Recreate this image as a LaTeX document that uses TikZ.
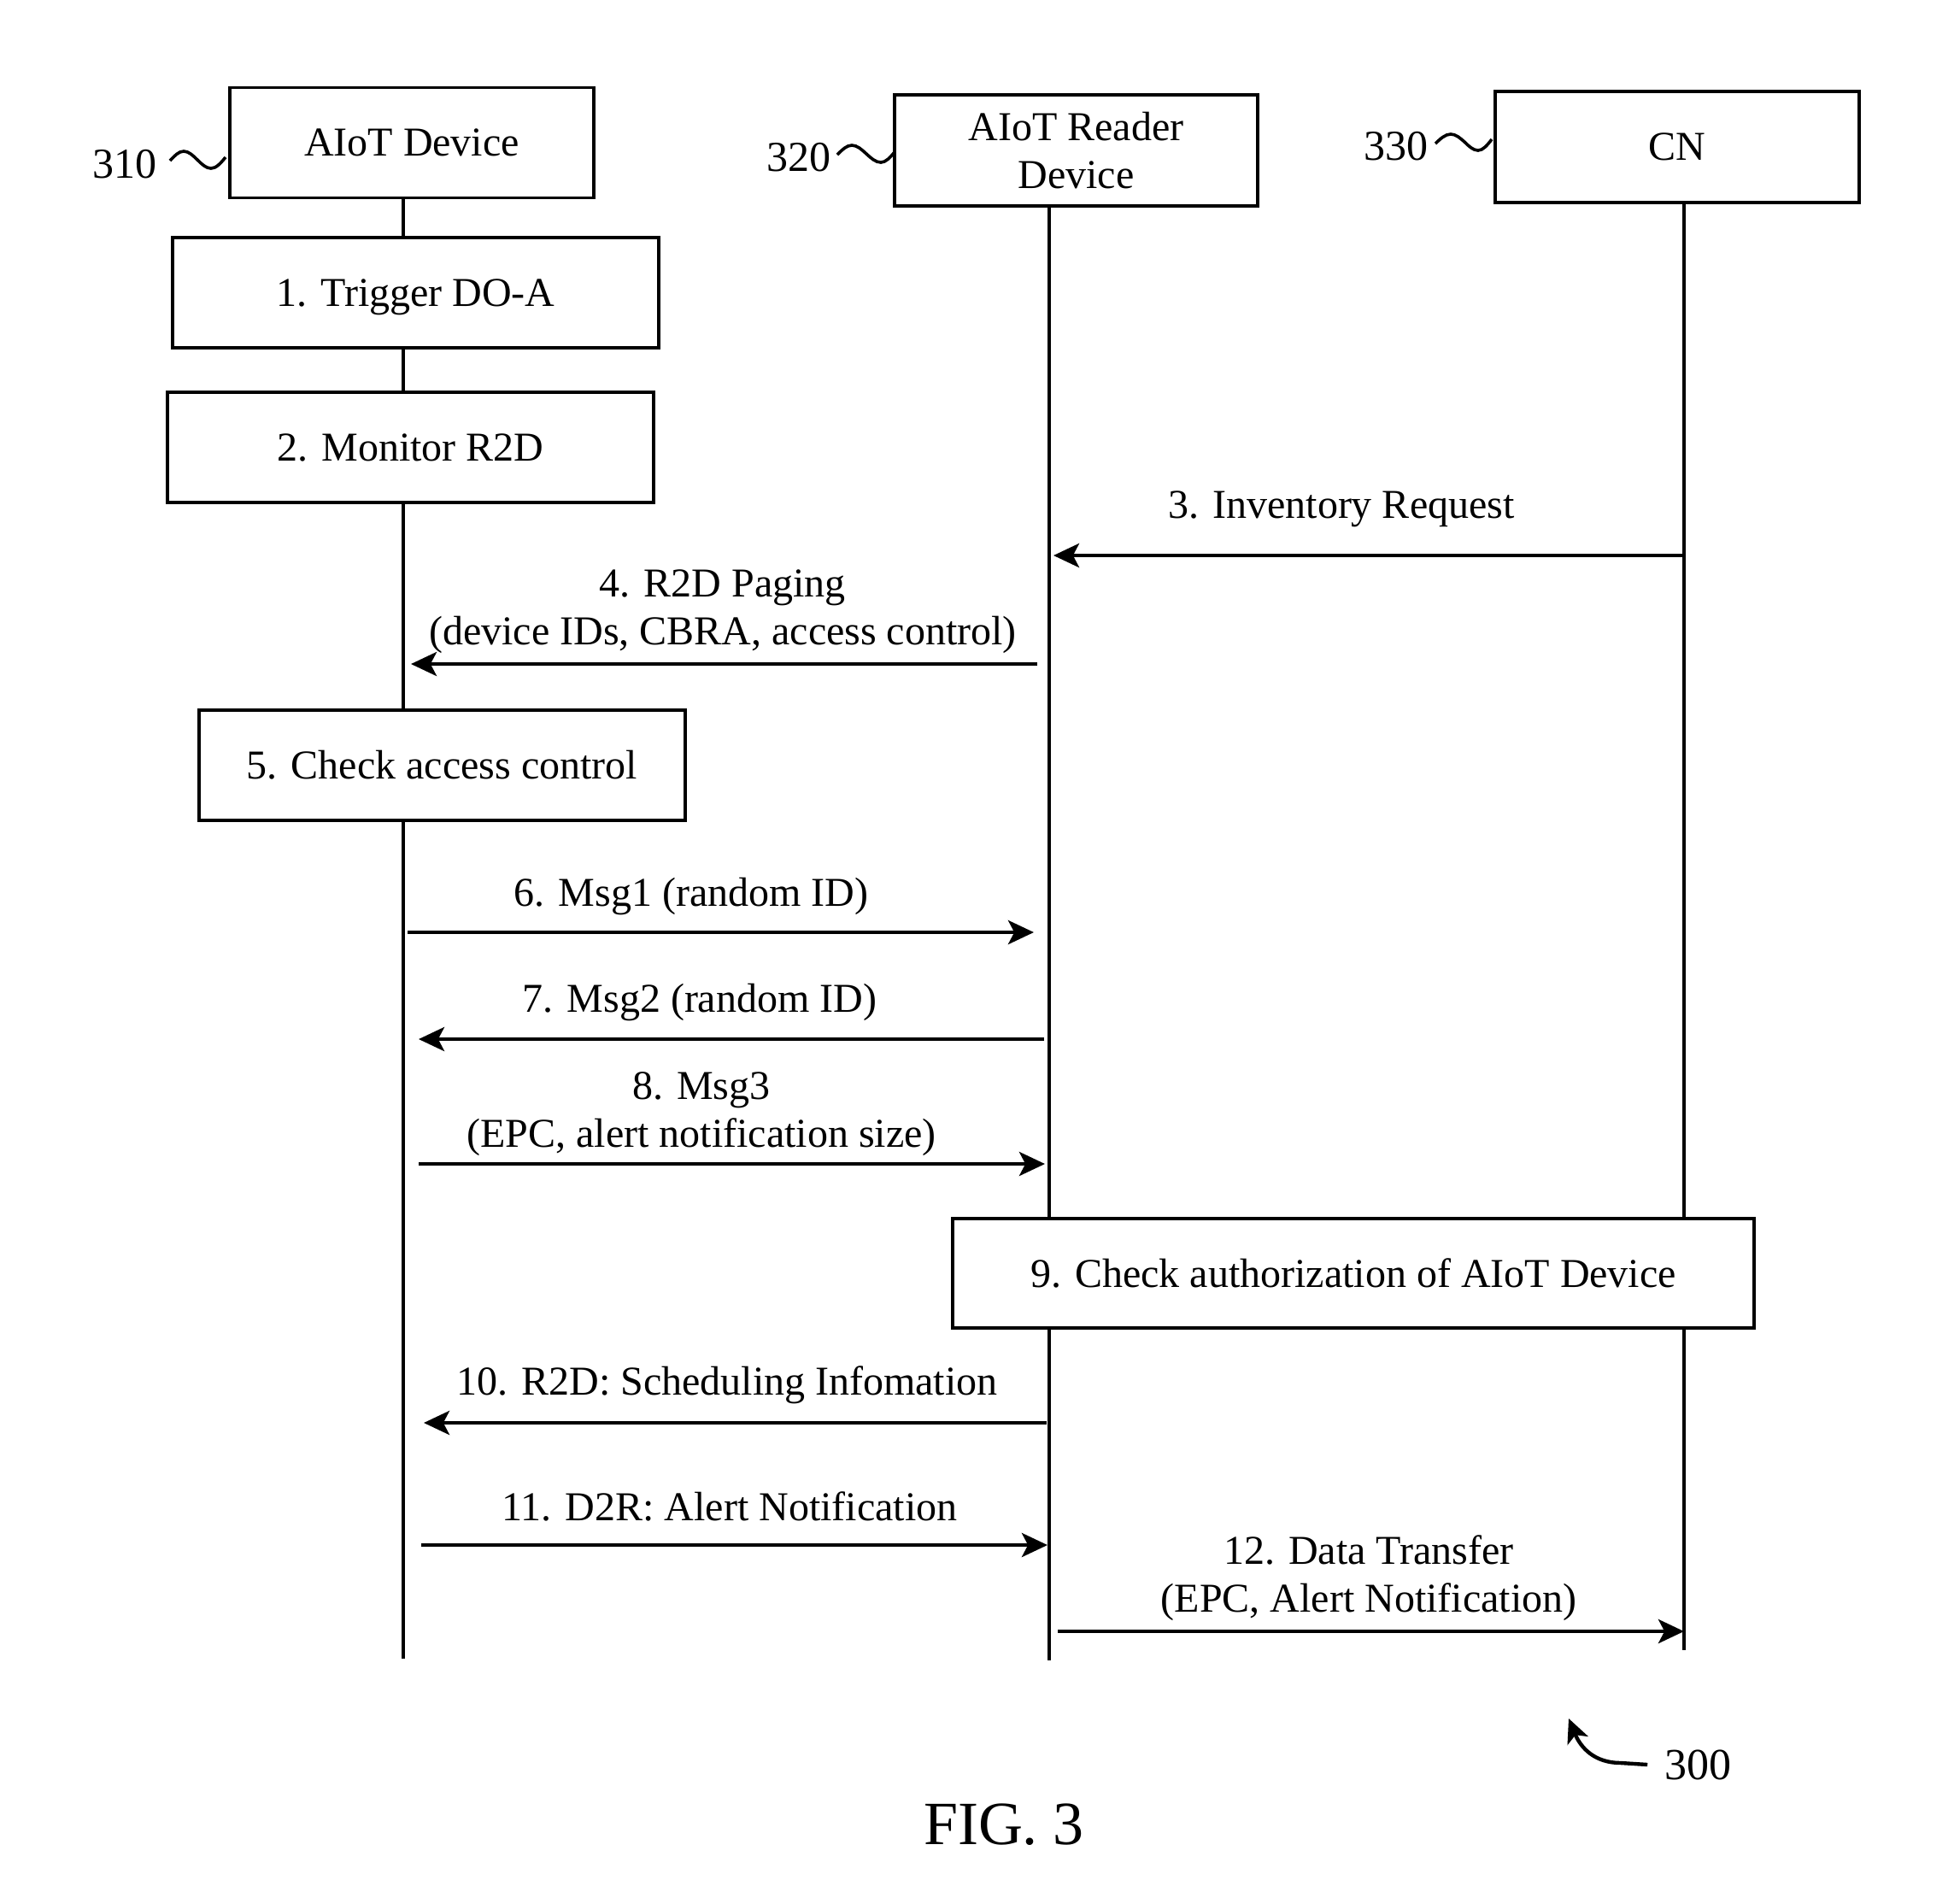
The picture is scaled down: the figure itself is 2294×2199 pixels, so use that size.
\documentclass[tikz,border=0pt]{standalone}
\usepackage{fontspec}
\setmainfont{Liberation Serif}
\usetikzlibrary{arrows.meta}
\begin{document}
\begin{tikzpicture}[x=0.25pt,y=-0.25pt,
  box/.style={draw,line width=0.95pt,fill=white,inner sep=0pt,align=center,font=\fontsize{12pt}{14pt}\selectfont},
  life/.style={line width=0.9pt},
  msg/.style={line width=1.15pt,-{Stealth[length=7.5pt,width=7pt,inset=1.8pt]}},
  lbl/.style={align=center,inner sep=0pt,font=\fontsize{12pt}{14pt}\selectfont},
  refn/.style={inner sep=0pt,font=\fontsize{12.5pt}{15pt}\selectfont},
  squig/.style={line width=0.9pt}]
\useasboundingbox (0,0) rectangle (2294,2199);

% header boxes
\node[box,minimum width=106.5pt,minimum height=32.25pt] (dev) at (482,167) {AIoT Device};
\node[box,minimum width=106.25pt,minimum height=32.5pt] (rdr) at (1259.5,176) {AIoT Reader\\Device};
\node[box,minimum width=106.5pt,minimum height=32.5pt] (cn) at (1963,172) {CN};

% reference numerals and tildes
\node[refn] (n310) at (146,192) {310};
\node[refn] (n320) at (935,184) {320};
\node[refn] (n330) at (1634,171) {330};
\draw[squig] (199,188) sin (215,177) cos (231,187) sin (247,197) cos (264,184);
\draw[squig] (980,181) sin (997,170) cos (1014,180) sin (1031,190) cos (1047,178);
\draw[squig] (1680,168) sin (1698,157) cos (1714,166) sin (1730,176) cos (1746,163);

% lifelines
\coordinate (devB) at (472,1941);
\coordinate (rdrB) at (1228,1943);
\coordinate (cnB) at (1971,1931);
\draw[life] (dev.south -| devB) -- (devB);
\draw[life] (rdr.south -| rdrB) -- (rdrB);
\draw[life] (cn.south -| cnB) -- (cnB);

% step boxes
\node[box,minimum width=142.25pt,minimum height=32.25pt,text depth=0pt] (s1) at (486.5,342.5) {1. Trigger DO-A};
\node[box,minimum width=142.25pt,minimum height=32.25pt] (s2) at (480.5,523.5) {2. Monitor R2D};
\node[box,minimum width=142.25pt,minimum height=32.25pt] (s5) at (517.5,895.5) {5. Check access control};
\node[box,minimum width=234.5pt,minimum height=32pt] (s9) at (1584,1490) {9. Check authorization of AIoT Device};

% message end points
\coordinate (a3s) at (1970,650);  \coordinate (a3e) at (1233,650);
\coordinate (a4s) at (1214,777);  \coordinate (a4e) at (481,777);
\coordinate (a6s) at (477,1091);  \coordinate (a6e) at (1210,1091);
\coordinate (a7s) at (1222,1216); \coordinate (a7e) at (490,1216);
\coordinate (a8s) at (490,1362);  \coordinate (a8e) at (1223,1362);
\coordinate (a10s) at (1225,1665); \coordinate (a10e) at (496,1665);
\coordinate (a11s) at (493,1808); \coordinate (a11e) at (1226,1808);
\coordinate (a12s) at (1238,1909); \coordinate (a12e) at (1971,1909);

\draw[msg] (a3s) -- (a3e);
\draw[msg] (a4s) -- (a4e);
\draw[msg] (a6s) -- (a6e);
\draw[msg] (a7s) -- (a7e);
\draw[msg] (a8s) -- (a8e);
\draw[msg] (a10s) -- (a10e);
\draw[msg] (a11s) -- (a11e);
\draw[msg] (a12s) -- (a12e);

% message labels
\node[lbl] (l3) at (1570,596) {3. Inventory Request};
\node[lbl] (l4) at (846,716) {4. R2D Paging\\(device IDs, CBRA, access control)};
\node[lbl] (l6) at (809,1049) {6. Msg1 (random ID)};
\node[lbl] (l7) at (819,1173) {7. Msg2 (random ID)};
\node[lbl] (l8) at (821,1304) {8. Msg3\\(EPC, alert notification size)};
\node[lbl] (l10) at (851,1621) {10. R2D: Scheduling Infomation};
\node[lbl] (l11) at (854,1763) {11. D2R: Alert Notification};
\node[lbl] (l12) at (1602,1847) {12. Data Transfer\\(EPC, Alert Notification)};

% figure reference
\node[refn,font=\fontsize{13pt}{15pt}\selectfont] (n300) at (1987,2065) {300};
\coordinate (ctip) at (1836,2011);
\draw[line width=1.1pt,-{Stealth[length=7pt,width=6.5pt,inset=1.8pt]}] ([xshift=-4.75pt]n300.west) -- (1897,2063) .. controls (1866,2063) and (1850,2045) .. (ctip);
\node[inner sep=0pt,font=\fontsize{18pt}{20pt}\selectfont] (fig) at (1175,2135) {FIG. 3};
\end{tikzpicture}
\end{document}
